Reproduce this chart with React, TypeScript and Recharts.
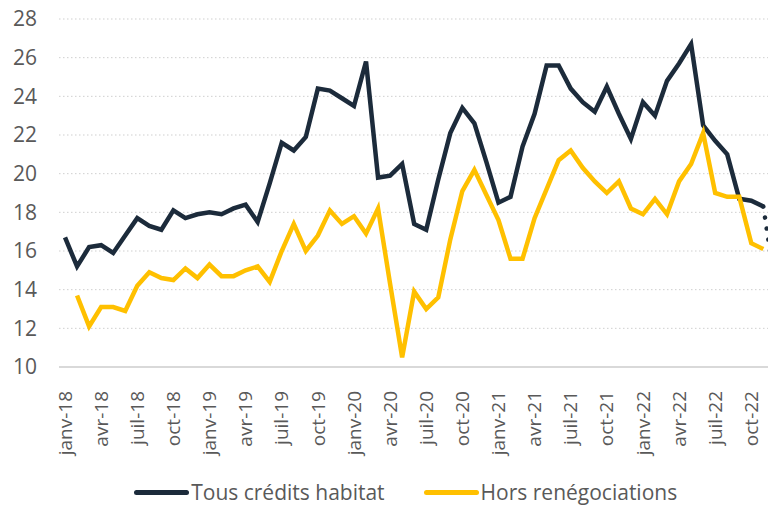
import React from 'react';
import { LineChart, Line, XAxis, YAxis, CartesianGrid, Legend } from 'recharts';

// categories
const MONTHS = ['janv', 'févr', 'mars', 'avr', 'mai', 'juin', 'juil', 'août', 'sept', 'oct', 'nov', 'déc'];
const YEARS = ['18', '19', '20', '21', '22'];
const categories = YEARS.flatMap((y) => MONTHS.map((m) => `${m}-${y}`));

// janv-18 .. nov-22
const tousCredits = [
    16.7, 15.2, 16.2, 16.3, 15.9, 16.8, 17.7, 17.3, 17.1, 18.1, 17.7, 17.9,
    18.0, 17.9, 18.2, 18.4, 17.5, 19.5, 21.6, 21.2, 21.9, 24.4, 24.3, 23.9,
    23.5, 25.8, 19.8, 19.9, 20.5, 17.4, 17.1, 19.7, 22.1, 23.4, 22.6, 20.6,
    18.5, 18.8, 21.4, 23.1, 25.6, 25.6, 24.4, 23.7, 23.2, 24.5, 23.1, 21.8,
    23.7, 23.0, 24.8, 25.7, 26.7, 22.5, 21.7, 21.0, 18.7, 18.6, 18.3,
];

// janv-18 .. nov-22 (no value for janv-18)
const horsRenegociations = [
    null, 13.7, 12.1, 13.1, 13.1, 12.9, 14.2, 14.9, 14.6, 14.5, 15.1, 14.6,
    15.3, 14.7, 14.7, 15.0, 15.2, 14.4, 16.0, 17.4, 16.0, 16.8, 18.1, 17.4,
    17.8, 16.9, 18.2, 14.3, 10.5, 13.9, 13.0, 13.6, 16.6, 19.1, 20.2, 18.9,
    17.6, 15.6, 15.6, 17.7, 19.2, 20.7, 21.2, 20.3, 19.6, 19.0, 19.6, 18.2,
    17.9, 18.7, 17.9, 19.6, 20.5, 22.1, 19.0, 18.8, 18.8, 16.4, 16.1,
];

// dotted end: nov-22 -> déc-22
const tousCreditsFin = [18.3, 14.2];
const finStart = 58;

const yTicks = [10, 12, 14, 16, 18, 20, 22, 24, 26, 28];

const data = categories.map((cat, i) => ({
    cat,
    tous: tousCredits[i] ?? null,
    hors: horsRenegociations[i] ?? null,
    fin: i >= finStart ? tousCreditsFin[i - finStart] ?? null : null,
}));

const DARK = '#1c2b3b';
const YELLOW = '#ffc000';
const FONT = '"Open Sans", sans-serif';

const XTick = (props: any) => {
    const { x, y, payload } = props;
    return (
        <text
            transform={`translate(${x}, ${y + 16}) rotate(-90)`}
            textAnchor="end"
            dy="0.35em"
            fontSize={19}
            fontFamily={FONT}
            fill="#595959"
        >
            {payload.value}
        </text>
    );
};

const renderLegend = () => (
    <div style={{
        display: 'flex', justifyContent: 'center', alignItems: 'center',
        paddingTop: 11, paddingLeft: 30, fontFamily: FONT, fontSize: 21, color: '#595959',
    }}>
        <span style={{ display: 'inline-block', width: 55, height: 5, borderRadius: 3, background: DARK, marginRight: 2 }} />
        <span style={{ marginRight: 39 }}>Tous crédits habitat</span>
        <span style={{ display: 'inline-block', width: 55, height: 5, borderRadius: 3, background: YELLOW, marginRight: 2 }} />
        <span>Hors renégociations</span>
    </div>
);

const App = () => {
    return (
        <div style={{ position: 'absolute', left: 0, top: 0, width: 768, height: 506, overflow: 'hidden', background: '#fff' }}>
            <LineChart
                width={790}
                height={506}
                data={data}
                margin={{ top: 19, right: 8.6, left: 0, bottom: 0 }}
            >
                <CartesianGrid vertical={false} stroke="#cfcfcf" strokeDasharray="1.5 2.5" />
                <XAxis
                    dataKey="cat"
                    scale="band"
                    interval={2}
                    height={100}
                    tickLine={false}
                    axisLine={{ stroke: '#d9d9d9', strokeWidth: 2 }}
                    tick={<XTick />}
                />
                <YAxis
                    width={59}
                    domain={[10, 28]}
                    ticks={yTicks}
                    tickLine={false}
                    axisLine={false}
                    tickMargin={16}
                    tick={{ fontSize: 21, fontFamily: FONT, fill: '#595959' }}
                />
                <Legend verticalAlign="bottom" height={39} content={renderLegend} />
                <Line type="linear" dataKey="tous" stroke={DARK} strokeWidth={4.5} dot={false} isAnimationActive={false} />
                <Line type="linear" dataKey="hors" stroke={YELLOW} strokeWidth={4.5} dot={false} isAnimationActive={false} />
                <Line
                    type="linear"
                    dataKey="fin"
                    stroke={DARK}
                    strokeWidth={4.5}
                    strokeDasharray="0.1 11"
                    strokeLinecap="round"
                    dot={false}
                    legendType="none"
                    isAnimationActive={false}
                />
            </LineChart>
        </div>
    );
};

export default App;
